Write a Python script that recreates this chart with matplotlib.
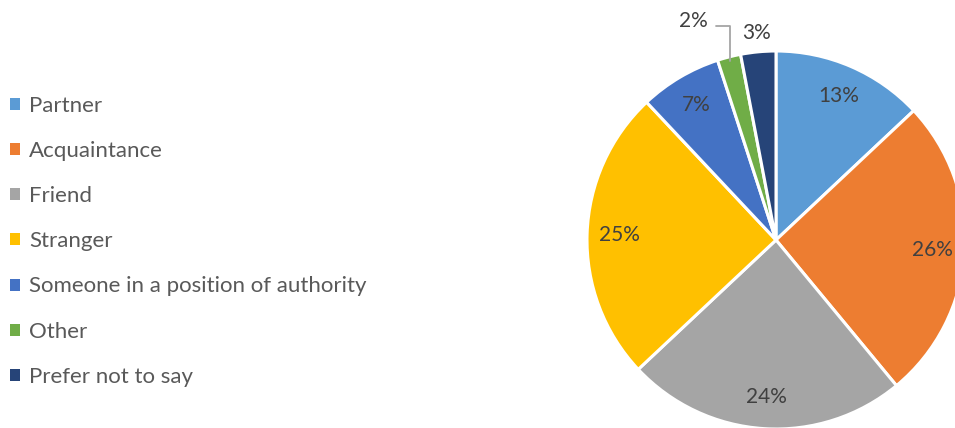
import matplotlib
matplotlib.use("Agg")
import matplotlib.pyplot as plt
import numpy as np

categories = ["Partner", "Acquaintance", "Friend", "Stranger",
              "Someone in a position of authority", "Other", "Prefer not to say"]
values = [13, 26, 24, 25, 7, 2, 3]
colors = ["#5B9BD5", "#ED7D31", "#A5A5A5", "#FFC000", "#4472C4", "#70AD47", "#264478"]

plt.rcParams['font.family'] = ['Lato', 'DejaVu Sans']

W, H = 955, 428
fig = plt.figure(figsize=(W / 100, H / 100), dpi=100)
ax = fig.add_axes([0, 0, 1, 1])

cx, cy, R = 776, H - 240, 189
wedges, texts, autotexts = ax.pie(
    values, colors=colors, startangle=90, counterclock=False,
    center=(cx, cy), radius=R, autopct='%1.0f%%', pctdistance=0.83,
    wedgeprops=dict(edgecolor='white', linewidth=2.2),
    textprops=dict(color='#404040', fontsize=15), frame=True)
ax.set_xlim(0, W)
ax.set_ylim(0, H)
ax.set_aspect('equal')
ax.axis('off')

# small slices: labels outside
total = sum(values)
cum = np.cumsum(values)
for i in (5, 6):
    mid = 90 - (cum[i] - values[i] / 2) / total * 360
    a = np.deg2rad(mid)
    if i == 6:
        autotexts[i].set_position((cx + 1.1 * R * np.cos(a), cy + 1.1 * R * np.sin(a)))
    else:
        autotexts[i].set_visible(False)
        ex, ey = cx + 0.98 * R * np.cos(a), cy + 0.98 * R * np.sin(a)
        ax.annotate(f"{values[i]}%", xy=(ex, ey), xytext=(ex - 37, H - 21),
                    ha='center', va='center', color='#404040', fontsize=15,
                    arrowprops=dict(arrowstyle='-', color='#A5A5A5', lw=1.3,
                                    shrinkA=4, shrinkB=0, relpos=(1, 0.25),
                                    connectionstyle='angle,angleA=0,angleB=90,rad=0'))

leg = ax.legend(wedges, categories, loc='upper left', bbox_to_anchor=(10 / W, (H - 96) / H),
                frameon=False, fontsize=16, handlelength=0.45, handleheight=0.45,
                handletextpad=0.42, labelspacing=1.13, borderaxespad=0, borderpad=0)
for t in leg.get_texts():
    t.set_color('#595959')
for h in leg.legend_handles:
    h.set_edgecolor('none')

fig.savefig("out.png", dpi=100)
